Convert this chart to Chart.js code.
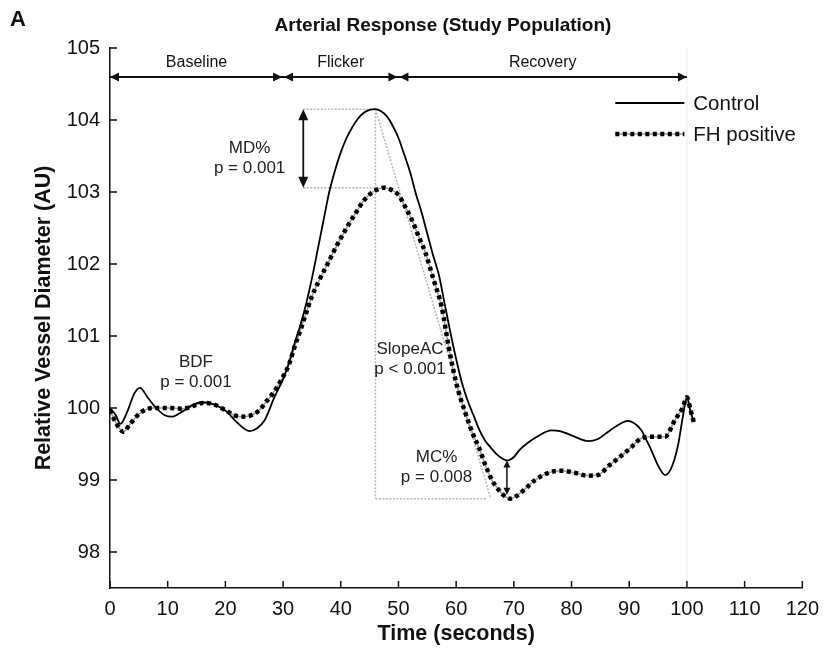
<!DOCTYPE html>
<html lang="en">
<head>
<meta charset="UTF-8">
<title>Arterial Response (Study Population)</title>
<script src="https://cdn.jsdelivr.net/npm/chart.js@4.4.0/dist/chart.umd.min.js"></script>
<style>
  html, body { margin: 0; padding: 0; background: #fff; }
  #wrap { width: 828px; height: 649px; }
</style>
</head>
<body>
<div id="wrap"><canvas id="chart" width="828" height="649"></canvas></div>
<script>
// axis ticks
const xTicks = [0, 10, 20, 30, 40, 50, 60, 70, 80, 90, 100, 110, 120];
const yTicks = [98, 99, 100, 101, 102, 103, 104, 105];

// study phases (seconds)
const phaseNames = ['Baseline', 'Flicker', 'Recovery'];
const phaseEdges = [0, 30, 50, 100];

// Control (solid)
const ctrlTime = [0, 1, 1.8, 3, 4.2, 5.2, 6.5, 8, 9.5, 10.7, 12.5, 14.5, 16.1, 18, 20.2, 22, 24.2, 25.5, 26.8, 28.5,
  30, 31, 32, 33, 34, 35, 36, 37, 38, 39, 40, 41, 42, 43, 44, 45, 46, 47, 48, 49,
  50, 51, 52, 53, 54, 55, 56, 57, 58, 59, 60, 61, 62, 63, 64, 65, 66, 67, 68, 68.8,
  70, 71, 72.5, 74, 76.5, 78, 80, 82.9, 84.6, 86, 88, 89.8, 91, 92.1, 93, 93.8, 95, 96.2, 97.2, 98.4,
  99.3, 100, 100.6, 101.2];
const ctrlValue = [100.0, 99.9, 99.78, 99.95, 100.2, 100.28, 100.15, 100.0, 99.9, 99.88, 99.95, 100.05, 100.08, 100.05, 99.95, 99.8, 99.68, 99.72, 99.83, 100.15,
  100.4, 100.62, 100.9, 101.15, 101.45, 101.8, 102.2, 102.6, 103.0, 103.3, 103.55, 103.75, 103.9, 104.02, 104.1, 104.14, 104.15, 104.12, 104.05, 103.92,
  103.75, 103.52, 103.28, 102.98, 102.72, 102.42, 102.12, 101.85, 101.45, 101.05, 100.68, 100.35, 100.1, 99.9, 99.7, 99.55, 99.45, 99.36, 99.3, 99.27,
  99.32, 99.42, 99.52, 99.6, 99.69, 99.68, 99.62, 99.54, 99.57, 99.65, 99.76, 99.82, 99.78, 99.69, 99.55, 99.42, 99.2, 99.07, 99.15, 99.46,
  99.88, 100.15, 99.95, 99.81];

// FH positive (dotted)
const fhTime = [0, 1, 2.3, 3.5, 5.2, 7.5, 10, 12.6, 14.5, 16.1, 18, 20.2, 21.5, 23, 24.5, 25.9, 27, 28.2, 29.7,
  31, 32, 33, 34, 35, 36.3, 37.7, 39.2, 41, 42.6, 44, 45.2, 46.5, 47.5, 48.5,
  50, 51, 52.4, 53.5, 54.7, 56.1, 57.5, 58.7, 60, 61.6, 63, 63.9, 65, 66.2, 67.5, 68.5, 69.4,
  70.5, 72, 73.7, 76, 78.2, 80.5, 82.9, 84.6, 86.5, 88.1, 90.4, 92.1, 93.8, 96.2, 97.9, 99.3, 100, 100.6, 101.2];
const fhValue = [99.97, 99.8, 99.67, 99.78, 99.93, 100.0, 100.0, 99.99, 100.03, 100.07, 100.05, 99.96, 99.9, 99.88, 99.9, 99.97, 100.08, 100.2, 100.39,
  100.6, 100.85, 101.08, 101.32, 101.55, 101.78, 102.0, 102.24, 102.5, 102.71, 102.88, 102.98, 103.04, 103.06, 103.04,
  102.96, 102.82, 102.6, 102.38, 102.15, 101.78, 101.4, 100.85, 100.35, 99.93, 99.62, 99.46, 99.22, 99.0, 98.85, 98.77, 98.74,
  98.78, 98.88, 99.0, 99.1, 99.13, 99.1, 99.06, 99.07, 99.2, 99.3, 99.46, 99.58, 99.6, 99.6, 99.83, 100.01, 100.15, 99.98, 99.8];

// annotation anchors (data space)
const mdArrowT = 33.5;
const slopeEndT = 66;
const mcWindow = [60, 80];
const notes = [
  { t: 24.2, v: 103.47, lines: ['MD%', 'p = 0.001'] },
  { t: 14.9, v: 100.5, lines: ['BDF', 'p = 0.001'] },
  { t: 52.0, v: 100.67, lines: ['SlopeAC', 'p < 0.001'] },
  { t: 56.6, v: 99.17, lines: ['MC%', 'p = 0.008'] }
];

const toPts = (ts, vs) => ts.map((t, i) => ({ x: t, y: vs[i] }));
const ctrlPts = toPts(ctrlTime, ctrlValue);
const fhPts = toPts(fhTime, fhValue);

const FONT = '"Liberation Sans", Arial, Helvetica, sans-serif';
const GRAY = '#b5b5b5';

function arrowHead(ctx, x, y, ang, len, half) {
  ctx.save();
  ctx.translate(x, y);
  ctx.rotate(ang);
  ctx.beginPath();
  ctx.moveTo(0, 0);
  ctx.lineTo(-len, -half);
  ctx.lineTo(-len, half);
  ctx.closePath();
  ctx.fill();
  ctx.restore();
}

const overlay = {
  id: 'overlay',
  beforeDatasetsDraw(chart) {
    const { ctx, chartArea: a, scales: { x, y } } = chart;
    const ctrlMax = Math.max(...ctrlValue);
    const peakT = ctrlTime[ctrlValue.indexOf(ctrlMax)];
    const fhMax = Math.max(...fhValue);
    const fhMin = Math.min(...fhValue);
    ctx.save();
    // faint end-of-recording line
    ctx.strokeStyle = '#ececec';
    ctx.lineWidth = 1;
    ctx.beginPath();
    ctx.moveTo(x.getPixelForValue(100), a.top);
    ctx.lineTo(x.getPixelForValue(100), a.bottom);
    ctx.stroke();
    // dotted construction lines
    ctx.strokeStyle = GRAY;
    ctx.lineWidth = 1.5;
    ctx.setLineDash([2, 1.5]);
    const seg = (t1, v1, t2, v2) => {
      ctx.beginPath();
      ctx.moveTo(x.getPixelForValue(t1), y.getPixelForValue(v1));
      ctx.lineTo(x.getPixelForValue(t2), y.getPixelForValue(v2));
      ctx.stroke();
    };
    seg(mdArrowT, ctrlMax, peakT, ctrlMax);
    seg(mdArrowT, fhMax, peakT, fhMax);
    seg(peakT, ctrlMax, peakT, fhMin);
    seg(peakT, ctrlMax, slopeEndT, fhMin);
    seg(peakT, fhMin, slopeEndT - 0.6, fhMin);
    ctx.restore();
  },
  afterDatasetsDraw(chart) {
    const { ctx, chartArea: a, scales: { x, y } } = chart;
    ctx.save();
    ctx.fillStyle = '#111';
    ctx.strokeStyle = '#111';

    // inward tick marks
    ctx.lineWidth = 1.5;
    xTicks.forEach(t => {
      const px = x.getPixelForValue(t);
      ctx.beginPath(); ctx.moveTo(px, a.bottom); ctx.lineTo(px, a.bottom - 7); ctx.stroke();
    });
    yTicks.forEach(v => {
      const py = y.getPixelForValue(v);
      ctx.beginPath(); ctx.moveTo(a.left, py); ctx.lineTo(a.left + 7, py); ctx.stroke();
    });

    // phase arrows
    const ay = a.top + 29;
    ctx.lineWidth = 2;
    ctx.beginPath();
    ctx.moveTo(x.getPixelForValue(phaseEdges[0]), ay);
    ctx.lineTo(x.getPixelForValue(phaseEdges[phaseEdges.length - 1]), ay);
    ctx.stroke();
    ctx.font = '16px ' + FONT;
    ctx.textAlign = 'center';
    ctx.textBaseline = 'middle';
    phaseNames.forEach((name, i) => {
      const p0 = x.getPixelForValue(phaseEdges[i]);
      const p1 = x.getPixelForValue(phaseEdges[i + 1]);
      arrowHead(ctx, p0 + (i === 0 ? 0 : 1), ay, Math.PI, 9, 4.5);
      arrowHead(ctx, p1 - (i === phaseNames.length - 1 ? 0 : 1), ay, 0, 9, 4.5);
      ctx.fillText(name, (p0 + p1) / 2, a.top + 15);
    });

    // MD% arrow
    const ctrlMax = Math.max(...ctrlValue);
    const fhMax = Math.max(...fhValue);
    const fhMin = Math.min(...fhValue);
    const mx = x.getPixelForValue(mdArrowT);
    const my1 = y.getPixelForValue(ctrlMax), my2 = y.getPixelForValue(fhMax);
    ctx.lineWidth = 1.8;
    ctx.beginPath(); ctx.moveTo(mx, my1 + 6); ctx.lineTo(mx, my2 - 6); ctx.stroke();
    arrowHead(ctx, mx, my1, -Math.PI / 2, 11, 5);
    arrowHead(ctx, mx, my2, Math.PI / 2, 11, 5);

    // MC% arrow at control minimum in early recovery
    let ci = -1;
    ctrlTime.forEach((t, i) => {
      if (t >= mcWindow[0] && t <= mcWindow[1] && (ci < 0 || ctrlValue[i] < ctrlValue[ci])) ci = i;
    });
    const cx = x.getPixelForValue(ctrlTime[ci]);
    const cy1 = y.getPixelForValue(ctrlValue[ci]), cy2 = y.getPixelForValue(fhMin) - 4;
    ctx.lineWidth = 1.5;
    ctx.beginPath(); ctx.moveTo(cx, cy1 + 4); ctx.lineTo(cx, cy2 - 4); ctx.stroke();
    arrowHead(ctx, cx, cy1, -Math.PI / 2, 7, 3.5);
    arrowHead(ctx, cx, cy2, Math.PI / 2, 7, 3.5);

    // text notes
    ctx.font = '17px ' + FONT;
    ctx.fillStyle = '#222';
    notes.forEach(n => {
      const px = x.getPixelForValue(n.t), py = y.getPixelForValue(n.v);
      ctx.fillText(n.lines[0], px, py - 10);
      ctx.fillText(n.lines[1], px, py + 10);
    });

    // legend
    const lx0 = a.right - 187, lx1 = a.right - 118;
    const ly1 = a.top + 55, ly2 = a.top + 86;
    ctx.strokeStyle = '#000';
    ctx.lineWidth = 1.8;
    ctx.beginPath(); ctx.moveTo(lx0, ly1); ctx.lineTo(lx1, ly1); ctx.stroke();
    ctx.strokeStyle = '#999';
    ctx.lineWidth = 1.5;
    ctx.beginPath(); ctx.moveTo(lx0, ly2); ctx.lineTo(lx1, ly2); ctx.stroke();
    ctx.strokeStyle = '#000';
    ctx.lineWidth = 4.5;
    ctx.setLineDash([4, 3.5]);
    ctx.beginPath(); ctx.moveTo(lx0, ly2); ctx.lineTo(lx1, ly2); ctx.stroke();
    ctx.setLineDash([]);
    ctx.font = '20.5px ' + FONT;
    ctx.fillStyle = '#111';
    ctx.textAlign = 'left';
    ctx.fillText('Control', lx1 + 9, ly1 + 1);
    ctx.fillText('FH positive', lx1 + 9, ly2 + 1);

    // panel letter and title
    ctx.font = 'bold 22px ' + FONT;
    ctx.fillText('A', 10, 20);
    ctx.font = 'bold 19px ' + FONT;
    ctx.textAlign = 'center';
    ctx.fillText('Arterial Response (Study Population)', 443, 26);
    ctx.restore();
  }
};

new Chart(document.getElementById('chart'), {
  type: 'line',
  data: {
    datasets: [
      { label: 'Control', data: ctrlPts, borderColor: '#000', borderWidth: 1.8, order: 1 },
      { label: 'FH positive', data: fhPts, borderColor: '#000', borderWidth: 4.5, borderDash: [4, 3.5], order: 2 },
      { label: 'FH positive (trace)', data: fhPts, borderColor: '#999', borderWidth: 1.5, order: 3 }
    ]
  },
  options: {
    responsive: false,
    animation: false,
    elements: { point: { radius: 0 }, line: { cubicInterpolationMode: 'monotone', fill: false } },
    layout: { padding: { top: 48, right: 23, left: 0, bottom: 0 } },
    plugins: { legend: { display: false }, tooltip: { enabled: false }, title: { display: false } },
    scales: {
      x: {
        type: 'linear', min: 0, max: 120,
        afterBuildTicks: s => { s.ticks = xTicks.map(v => ({ value: v })); },
        afterFit: s => { s.height = 61; },
        grid: { display: false, drawTicks: false },
        border: { display: true, color: '#111', width: 1.5 },
        ticks: { color: '#111', padding: 9, maxRotation: 0, font: { size: 20, family: FONT } },
        title: { display: true, text: 'Time (seconds)', color: '#111', font: { size: 21.5, weight: 'bold', family: FONT }, padding: { top: 0, bottom: 2 } }
      },
      y: {
        type: 'linear', min: 97.5, max: 105,
        afterBuildTicks: s => { s.ticks = yTicks.map(v => ({ value: v })); },
        afterFit: s => { s.width = 110; },
        grid: { display: false, drawTicks: false },
        border: { display: true, color: '#111', width: 1.5 },
        ticks: { color: '#111', padding: 10, font: { size: 20, family: FONT } },
        title: { display: true, text: 'Relative Vessel Diameter (AU)', color: '#111', font: { size: 21.5, weight: 'bold', family: FONT }, padding: { top: 31, bottom: 0 } }
      }
    }
  },
  plugins: [overlay]
});
</script>
</body>
</html>
